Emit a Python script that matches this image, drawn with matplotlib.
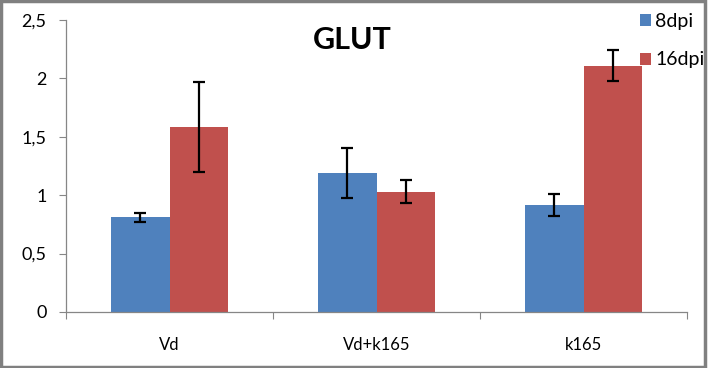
import numpy as np
import matplotlib
matplotlib.use("Agg")
import matplotlib.pyplot as plt
from matplotlib.patches import Rectangle, Patch
from matplotlib.ticker import FuncFormatter

plt.rcParams['font.family'] = ['Lato', 'DejaVu Sans']

# data
categories = ["Vd", "Vd+k165", "k165"]
series = ["8dpi", "16dpi"]
vals_8dpi = [0.81, 1.19, 0.915]
err_8dpi = [0.04, 0.21, 0.095]
vals_16dpi = [1.58, 1.03, 2.11]
err_16dpi = [0.385, 0.10, 0.135]
colors = ["#4f81bd", "#c0504d"]

fig = plt.figure(figsize=(7.08, 3.68), dpi=100)
ax = fig.add_axes([66 / 708, 56 / 368, 621 / 708, 292 / 368])

x = np.arange(len(categories))
w = 0.285
axis_grey = "#868686"

for k, (v, e) in enumerate([(vals_8dpi, err_8dpi), (vals_16dpi, err_16dpi)]):
    pos = x + (k - 0.5) * w
    ax.bar(pos, v, width=w, color=colors[k], zorder=2)
    ax.errorbar(pos, v, yerr=e, fmt='none', ecolor='black',
                elinewidth=1.6, capsize=4, capthick=1.6, zorder=3)

ax.set_xlim(-0.5, 2.5)
ax.set_ylim(0, 2.5)
ax.set_yticks(np.arange(0, 2.51, 0.5))
ax.yaxis.set_major_formatter(FuncFormatter(lambda v, p: f"{v:g}".replace(".", ",")))

# category labels between boundary ticks
ax.set_xticks([-0.5, 0.5, 1.5, 2.5])
ax.set_xticklabels([])
ax.set_xticks(x, minor=True)
ax.set_xticklabels(categories, minor=True)
ax.tick_params(axis='x', which='minor', length=0, pad=18, labelsize=12)
ax.tick_params(axis='x', which='major', length=5, color=axis_grey, direction='out')
ax.tick_params(axis='y', length=5, color=axis_grey, labelsize=13, pad=9)

for s in ['top', 'right']:
    ax.spines[s].set_visible(False)
for s in ['left', 'bottom']:
    ax.spines[s].set_color(axis_grey)
    ax.spines[s].set_linewidth(0.9)

fig.text(352 / 708, 1 - 40 / 368, "GLUT", ha='center', va='center',
         fontsize=22, fontweight='bold')

handles = [Patch(facecolor=c) for c in colors]
fig.legend(handles, series, loc='upper left',
           bbox_to_anchor=(640 / 708, 1 - 13 / 368), frameon=False,
           fontsize=14, borderpad=0, borderaxespad=0, labelspacing=1.1,
           handlelength=0.57, handleheight=0.57, handletextpad=0.22)

# outer chart border
fig.patches.append(Rectangle((0.002, 0.004), 0.994, 0.992, transform=fig.transFigure,
                             fill=False, edgecolor="#808080", linewidth=2.5))

fig.savefig("out.png", dpi=100)
